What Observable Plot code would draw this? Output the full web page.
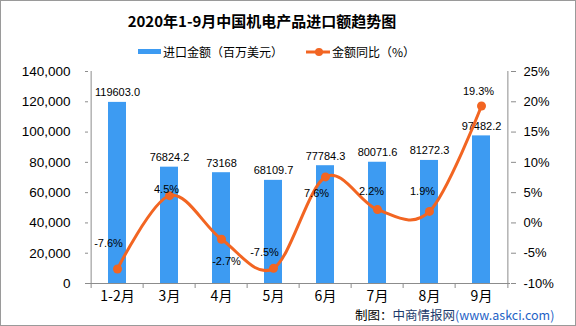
<!DOCTYPE html>
<html>
<head>
<meta charset="utf-8">
<script src="https://cdn.jsdelivr.net/npm/d3@7"></script>
<script src="https://cdn.jsdelivr.net/npm/@observablehq/plot@0.6"></script>
<style>
  body { margin: 0; background: #fff; }
  #wrap { position: relative; width: 576px; height: 326px; overflow: hidden; background: #fff; }
  #wrap .frame { position: absolute; left: 0; top: 0; width: 574px; height: 324px; border: 1px solid #9a9a9a; pointer-events: none; }
  #chart { position: absolute; left: 0; top: 0; }
  .title { position: absolute; left: 0; top: 11px; width: 524px; text-align: center;
           font: 700 15px/20px "Noto Sans CJK SC", sans-serif; color: #000; }
  .legend-label { position: absolute; top: 44px; font: 12px/16px "Noto Sans CJK SC", sans-serif; color: #000; white-space: nowrap; }
  .swatch-bar { position: absolute; left: 138px; top: 49px; width: 23px; height: 5px; background: #3d9bf2; }
  .swatch-line { position: absolute; left: 306px; top: 47px; }
  .footer { position: absolute; left: 355px; top: 308px; font: 12.5px/13px "Noto Sans CJK SC", sans-serif; color: #000; white-space: nowrap; }
  .footer .site { color: #1c3a6b; }
  .footer .url { color: #1f63c6; }
</style>
</head>
<body>
<div id="wrap">
  <div class="title">2020年1-9月中国机电产品进口额趋势图</div>
  <div class="swatch-bar"></div>
  <div class="legend-label" style="left:163px">进口金额（百万美元）</div>
  <svg class="swatch-line" width="24" height="10">
    <line x1="0" y1="5" x2="24" y2="5" stroke="#f26522" stroke-width="3"></line>
    <circle cx="13" cy="5" r="4" fill="#f26522"></circle>
  </svg>
  <div class="legend-label" style="left:332px">金额同比（%）</div>
  <div id="chart"></div>
  <div class="footer">制图：<span class="site">中商情报网</span><span class="url">(www.askci.com)</span></div>
  <div class="frame"></div>
</div>
<script>
// Monthly import value of electromechanical products (million USD) and year-on-year change (%)
const months = ["1-2月", "3月", "4月", "5月", "6月", "7月", "8月", "9月"];
const importText = ["119603.0", "76824.2", "73168", "68109.7", "77784.3", "80071.6", "81272.3", "97482.2"];
const importValues = importText.map(Number);
const growthPct = [-7.6, 4.5, -2.7, -7.5, 7.6, 2.2, 1.9, 19.3];
const leftTicks = [0, 20000, 40000, 60000, 80000, 100000, 120000, 140000];
const rightTicks = [-10, -5, 0, 5, 10, 15, 20, 25];

// label nudges (dx, dy) for the percentage labels so they sit clear of the curve
const growthLabelShift = [[-9, -25], [-3, -6], [5, 22], [-9, -16], [-9, 17], [-6, -18], [-7, -20], [-3, -15]];

const idx = d3.range(months.length);
// the secondary (percent) axis is drawn on the primary y scale through this mapping
const pctToY = d3.scaleLinear([-10, 25], [0, 140000]);

const W = 576, H = 326;
const M = {top: 71, right: 66, bottom: 43, left: 88};
const step = (W - M.left - M.right) / months.length;
const axisGrey = "#8c8c8c";
const barBlue = "#3d9bf2";
const lineOrange = "#f26522";
const numFont = "Liberation Sans, Arial, sans-serif";
const cjkFont = "Noto Sans CJK SC, sans-serif";

const chart = Plot.plot({
  width: W,
  height: H,
  marginTop: M.top,
  marginRight: M.right,
  marginBottom: M.bottom,
  marginLeft: M.left,
  style: {background: "transparent", fontFamily: numFont, color: "#000"},
  x: {type: "band", domain: months, paddingInner: 0.66, paddingOuter: 0.33},
  y: {domain: [0, 140000]},
  marks: [
    Plot.barY(idx, {x: i => months[i], y: i => importValues[i], fill: barBlue}),
    // axis lines
    Plot.ruleY([0], {stroke: axisGrey}),
    Plot.ruleX([months[0]], {x: d => d, dx: -step / 2, stroke: axisGrey}),
    Plot.ruleX([months[months.length - 1]], {x: d => d, dx: step / 2, stroke: axisGrey}),
    // category boundary ticks under the x axis
    Plot.ruleX(months, {x: d => d, dx: -step / 2, y1: 0, y2: 0, insetBottom: -5, stroke: axisGrey}),
    Plot.ruleX([months[months.length - 1]], {x: d => d, dx: step / 2, y1: 0, y2: 0, insetBottom: -5, stroke: axisGrey}),
    Plot.axisX({tickSize: 0, tickPadding: 8, label: null, fontSize: 14, fontFamily: cjkFont, color: "#000"}),
    Plot.axisY({
      ticks: leftTicks, tickSize: 3, tickPadding: 15, label: null,
      tickFormat: d3.format(","), fontSize: 13.5, color: "#000", stroke: axisGrey
    }),
    Plot.axisY({
      anchor: "right", ticks: rightTicks.map(pctToY), tickSize: 5, tickPadding: 8, label: null,
      tickFormat: v => `${Math.round(pctToY.invert(v))}%`, fontSize: 13, color: "#000", stroke: axisGrey
    }),
    // bar value labels
    Plot.text(idx, {
      x: i => months[i], y: i => importValues[i], text: i => importText[i],
      dy: -9.5, fontSize: 11, fill: "#000"
    }),
    // year-on-year curve
    Plot.line(idx, {
      x: i => months[i], y: i => pctToY(growthPct[i]),
      curve: "cardinal", stroke: lineOrange, strokeWidth: 3
    }),
    Plot.dot(idx, {x: i => months[i], y: i => pctToY(growthPct[i]), r: 4.5, fill: lineOrange, stroke: "none"}),
    ...idx.map(i => Plot.text([i], {
      x: () => months[i], y: () => pctToY(growthPct[i]),
      text: () => `${growthPct[i].toFixed(1)}%`,
      dx: growthLabelShift[i][0], dy: growthLabelShift[i][1],
      fontSize: 11, fill: "#000"
    }))
  ]
});

document.getElementById("chart").appendChild(chart);
</script>
</body>
</html>
